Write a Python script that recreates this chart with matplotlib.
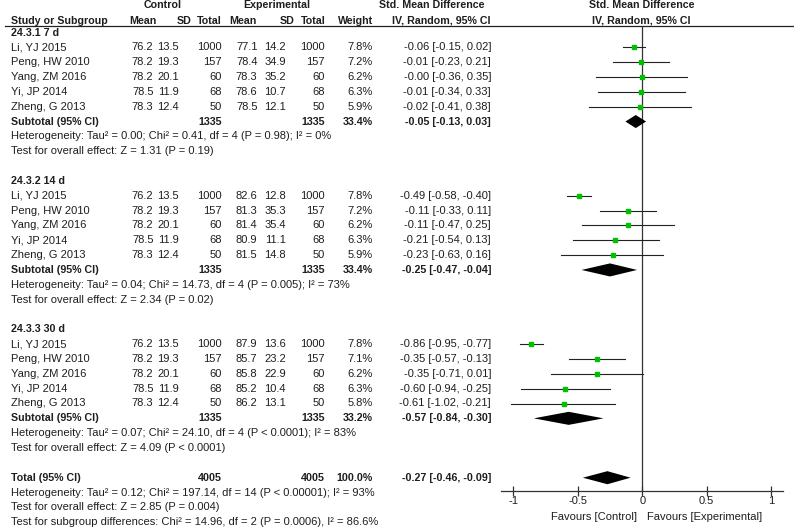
import matplotlib
matplotlib.use("Agg")
import matplotlib.pyplot as plt
from matplotlib.ticker import FixedLocator, FixedFormatter

plt.rcParams['font.family'] = ['Liberation Sans', 'DejaVu Sans']
plt.rcParams['axes.unicode_minus'] = False

# ---------------- data ----------------
group_names = ["24.3.1 7 d", "24.3.2 14 d", "24.3.3 30 d"]
studies = ["Li, YJ 2015", "Peng, HW 2010", "Yang, ZM 2016", "Yi, JP 2014", "Zheng, G 2013"]

ctrl_mean = [76.2, 78.2, 78.2, 78.5, 78.3]
ctrl_sd = [13.5, 19.3, 20.1, 11.9, 12.4]
ctrl_n = [1000, 157, 60, 68, 50]

exp_mean_7d = [77.1, 78.4, 78.3, 78.6, 78.5]
exp_sd_7d = [14.2, 34.9, 35.2, 10.7, 12.1]
exp_mean_14d = [82.6, 81.3, 81.4, 80.9, 81.5]
exp_sd_14d = [12.8, 35.3, 35.4, 11.1, 14.8]
exp_mean_30d = [87.9, 85.7, 85.8, 85.2, 86.2]
exp_sd_30d = [13.6, 23.2, 22.9, 10.4, 13.1]
exp_n = [1000, 157, 60, 68, 50]

weight_7d = [7.8, 7.2, 6.2, 6.3, 5.9]
weight_14d = [7.8, 7.2, 6.2, 6.3, 5.9]
weight_30d = [7.8, 7.1, 6.2, 6.3, 5.8]

smd_7d = [-0.06, -0.01, -0.00, -0.01, -0.02]
lo_7d = [-0.15, -0.23, -0.36, -0.34, -0.41]
hi_7d = [0.02, 0.21, 0.35, 0.33, 0.38]
smd_14d = [-0.49, -0.11, -0.11, -0.21, -0.23]
lo_14d = [-0.58, -0.33, -0.47, -0.54, -0.63]
hi_14d = [-0.40, 0.11, 0.25, 0.13, 0.16]
smd_30d = [-0.86, -0.35, -0.35, -0.60, -0.61]
lo_30d = [-0.95, -0.57, -0.71, -0.94, -1.02]
hi_30d = [-0.77, -0.13, 0.01, -0.25, -0.21]

sub_n = [1335, 1335, 1335]
sub_weight = [33.4, 33.4, 33.2]
sub_smd = [-0.05, -0.25, -0.57]
sub_lo = [-0.13, -0.47, -0.84]
sub_hi = [0.03, -0.04, -0.30]
sub_het = ["Heterogeneity: Tau\u00b2 = 0.00; Chi\u00b2 = 0.41, df = 4 (P = 0.98); I\u00b2 = 0%",
           "Heterogeneity: Tau\u00b2 = 0.04; Chi\u00b2 = 14.73, df = 4 (P = 0.005); I\u00b2 = 73%",
           "Heterogeneity: Tau\u00b2 = 0.07; Chi\u00b2 = 24.10, df = 4 (P < 0.0001); I\u00b2 = 83%"]
sub_test = ["Test for overall effect: Z = 1.31 (P = 0.19)",
            "Test for overall effect: Z = 2.34 (P = 0.02)",
            "Test for overall effect: Z = 4.09 (P < 0.0001)"]

total_n = 4005
total_weight = 100.0
total_smd = -0.27
total_lo = -0.46
total_hi = -0.09
total_lines = ["Heterogeneity: Tau\u00b2 = 0.12; Chi\u00b2 = 197.14, df = 14 (P < 0.00001); I\u00b2 = 93%",
               "Test for overall effect: Z = 2.85 (P = 0.004)",
               "Test for subgroup differences: Chi\u00b2 = 14.96, df = 2 (P = 0.0006), I\u00b2 = 86.6%"]

tick_values = [-1, -0.5, 0, 0.5, 1]
tick_labels = ["-1", "-0.5", "0", "0.5", "1"]

exp_means = [exp_mean_7d, exp_mean_14d, exp_mean_30d]
exp_sds = [exp_sd_7d, exp_sd_14d, exp_sd_30d]
weights = [weight_7d, weight_14d, weight_30d]
smds = [smd_7d, smd_14d, smd_30d]
los = [lo_7d, lo_14d, lo_30d]
his = [hi_7d, hi_14d, hi_30d]

# ---------------- layout ----------------
W, H = 794, 530
ROW0, ROWH = 32.5, 14.84
FS = 8.0
FSB = 7.7
TXT = '#1e1e1e'

def ry(i):
    return ROW0 + i * ROWH

fig = plt.figure(figsize=(W / 100, H / 100), dpi=100)
tax = fig.add_axes([0, 0, 1, 1])
tax.set_xlim(0, W)
tax.set_ylim(H, 0)
tax.axis('off')

def t(x, y, s, ha='left', bold=False):
    tax.text(x, y, s, ha=ha, va='center', fontsize=FSB if bold else FS,
             fontweight='bold' if bold else 'normal', color=TXT)

# column right edges
X_NAME = 11
X_CM, X_CSD, X_CN = 153.5, 179, 221.5
X_EM, X_ESD, X_EN = 257.5, 286, 325
X_W = 373
X_CI = 491

# headers
t(163, 5.5, "Control", ha='center', bold=True)
t(277, 5.5, "Experimental", ha='center', bold=True)
t(432, 5.5, "Std. Mean Difference", ha='center', bold=True)
t(642, 5.5, "Std. Mean Difference", ha='center', bold=True)
HY = 20.7
t(X_NAME, HY, "Study or Subgroup", bold=True)
t(156, HY, "Mean", ha='right', bold=True)
t(191.5, HY, "SD", ha='right', bold=True)
t(222, HY, "Total", ha='right', bold=True)
t(257, HY, "Mean", ha='right', bold=True)
t(294.5, HY, "SD", ha='right', bold=True)
t(325.5, HY, "Total", ha='right', bold=True)
t(373, HY, "Weight", ha='right', bold=True)
t(441, HY, "IV, Random, 95% CI", ha='center', bold=True)
t(641, HY, "IV, Random, 95% CI", ha='center', bold=True)
tax.plot([5, W], [25.5, 25.5], color='#222222', lw=0.9)

# table rows
for g in range(3):
    base = g * 10
    t(X_NAME, ry(base), group_names[g], bold=True)
    for k in range(5):
        y = ry(base + 1 + k)
        t(X_NAME, y, studies[k])
        t(X_CM, y, f"{ctrl_mean[k]:.1f}", ha='right')
        t(X_CSD, y, f"{ctrl_sd[k]:.1f}", ha='right')
        t(X_CN, y, f"{ctrl_n[k]}", ha='right')
        t(X_EM, y, f"{exp_means[g][k]:.1f}", ha='right')
        t(X_ESD, y, f"{exp_sds[g][k]:.1f}", ha='right')
        t(X_EN, y, f"{exp_n[k]}", ha='right')
        t(X_W, y, f"{weights[g][k]:.1f}%", ha='right')
        t(X_CI, y, f"{smds[g][k]:.2f} [{los[g][k]:.2f}, {his[g][k]:.2f}]", ha='right')
    y = ry(base + 6)
    t(X_NAME, y, "Subtotal (95% CI)", bold=True)
    t(X_CN, y, f"{sub_n[g]}", ha='right', bold=True)
    t(X_EN, y, f"{sub_n[g]}", ha='right', bold=True)
    t(X_W, y, f"{sub_weight[g]:.1f}%", ha='right', bold=True)
    t(X_CI, y, f"{sub_smd[g]:.2f} [{sub_lo[g]:.2f}, {sub_hi[g]:.2f}]", ha='right', bold=True)
    t(X_NAME, ry(base + 7), sub_het[g])
    t(X_NAME, ry(base + 8), sub_test[g])

y = ry(30)
t(X_NAME, y, "Total (95% CI)", bold=True)
t(X_CN, y, f"{total_n}", ha='right', bold=True)
t(X_EN, y, f"{total_n}", ha='right', bold=True)
t(X_W, y, f"{total_weight:.1f}%", ha='right', bold=True)
t(X_CI, y, f"{total_smd:.2f} [{total_lo:.2f}, {total_hi:.2f}]", ha='right', bold=True)
for j, s in enumerate(total_lines):
    t(X_NAME, ry(31 + j), s)

# ---------------- forest axes ----------------
ZERO_PX, UNIT = 642.2, 129.0
AX_L, AX_R = 500.7, 783.3
AX_TOP, AX_BOT = 25.5, 490.7
fax = fig.add_axes([AX_L / W, (H - AX_BOT) / H, (AX_R - AX_L) / W, (AX_BOT - AX_TOP) / H])
fax.patch.set_alpha(0)
fax.set_xlim((AX_L - ZERO_PX) / UNIT, (AX_R - ZERO_PX) / UNIT)
fax.set_ylim((AX_BOT - ROW0) / ROWH, (AX_TOP - ROW0) / ROWH)
for sp in ['top', 'left', 'right']:
    fax.spines[sp].set_visible(False)
fax.spines['bottom'].set_color('#333333')
fax.spines['bottom'].set_linewidth(0.9)
fax.yaxis.set_visible(False)
fax.xaxis.set_major_locator(FixedLocator(tick_values))
fax.xaxis.set_major_formatter(FixedFormatter(tick_labels))
fax.tick_params(axis='x', direction='inout', length=7, width=0.9, color='#333333',
                labelsize=FS, labelcolor=TXT, pad=0.5)
fax.axvline(0, color='#333333', lw=0.9)

DH = 0.44
for g in range(3):
    base = g * 10
    for k in range(5):
        r = base + 1 + k
        fax.plot([los[g][k], his[g][k]], [r, r], color='#222222', lw=0.8, clip_on=False)
        ms = 2.6 + (weights[g][k] - 5.8) * 0.25
        fax.plot(smds[g][k], r, marker='s', ms=ms, color='#00c000', mec='#00c000',
                 clip_on=False, zorder=3)
    r = base + 6
    fax.fill([sub_lo[g], sub_smd[g], sub_hi[g], sub_smd[g]], [r, r - DH, r, r + DH],
             color='black', lw=0, clip_on=False, zorder=3)
r = 30
fax.fill([total_lo, total_smd, total_hi, total_smd], [r, r - DH, r, r + DH],
         color='black', lw=0, clip_on=False, zorder=3)

tax.text(637, 516.7, "Favours [Control]", ha='right', va='center', fontsize=FS, color=TXT)
tax.text(647, 516.7, "Favours [Experimental]", ha='left', va='center', fontsize=FS, color=TXT)

fig.savefig("out.png", dpi=100)
